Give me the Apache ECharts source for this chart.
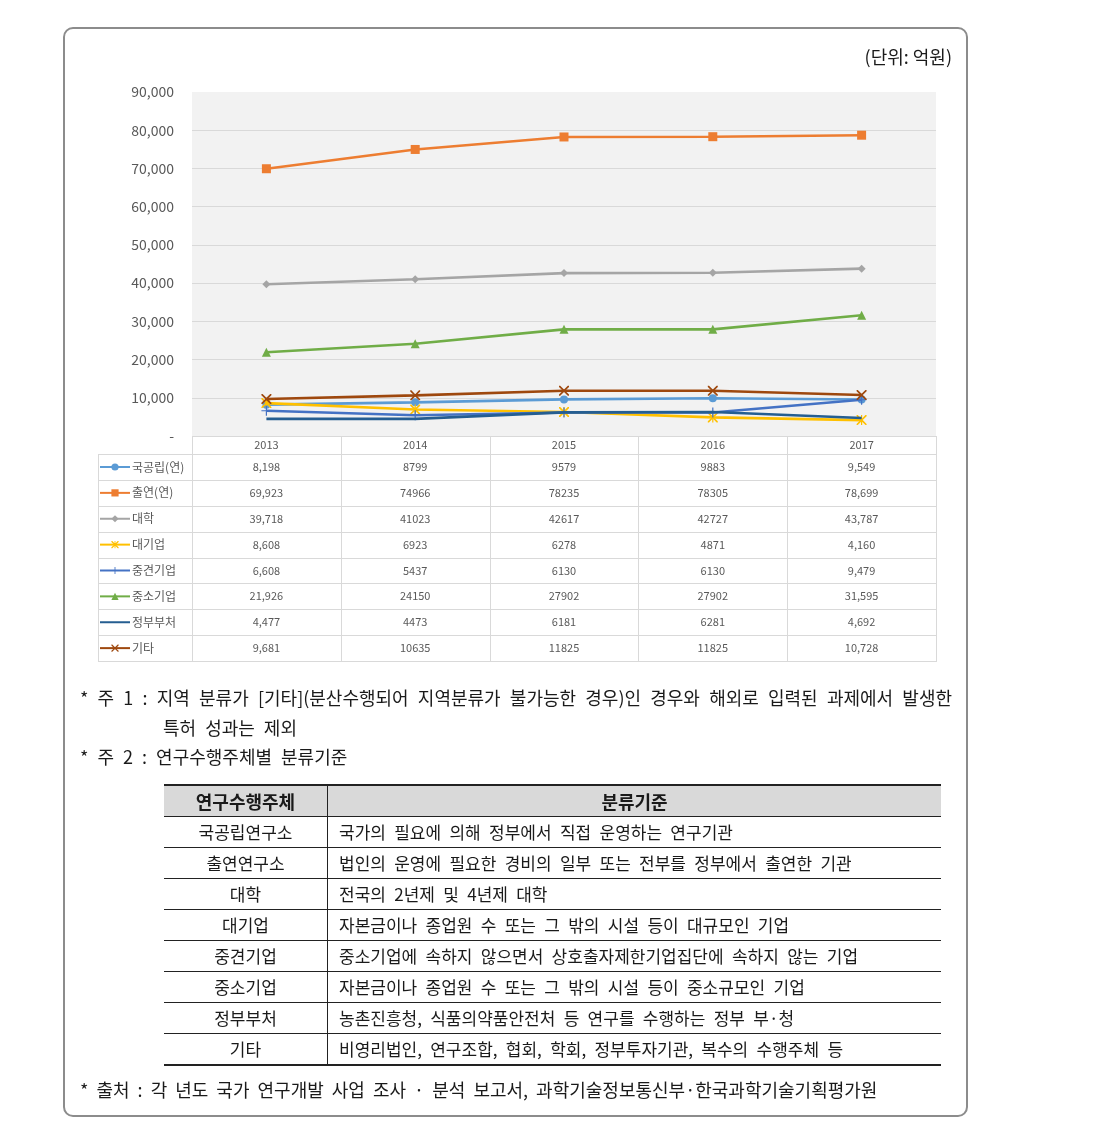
<!DOCTYPE html>
<html><head><meta charset="utf-8">
<script src="https://cdn.jsdelivr.net/npm/echarts@6/dist/echarts.min.js"></script>
<style>
html,body{margin:0;padding:0;background:#fff;}
body{width:1110px;height:1126px;position:relative;overflow:hidden;font-family:"Noto Sans CJK KR","Noto Sans",sans-serif;color:#1a1a1a;}
#chart{position:absolute;left:0;top:0;width:1110px;height:680px;}
#frame{position:absolute;left:63px;top:27px;width:901px;height:1086px;border:2px solid #8c8c8c;border-radius:10px;pointer-events:none;}
.t{position:absolute;white-space:nowrap;}
.note{font-size:18px;line-height:26px;color:#1a1a1a;}
.ws{word-spacing:5px;}
.hl{position:absolute;height:1px;background:#d9d9d9;}
.vl{position:absolute;width:1px;background:#d9d9d9;}
.cell{position:absolute;text-align:center;font-size:11px;color:#595959;}
#cls{position:absolute;left:164px;top:784px;width:777px;border-collapse:collapse;font-size:17px;color:#1a1a1a;word-spacing:4.5px;}
#cls td,#cls th{height:30px;padding:0;border-bottom:1px solid #222;line-height:30px;}
#cls tr:first-child th{border-top:2px solid #222;background:#d9d9d9;font-weight:bold;font-size:18px;}
#cls tr:last-child td{border-bottom:2px solid #222;}
#cls .c0{width:163px;text-align:center;border-right:1px solid #222;}
#cls .c1{text-align:left;padding-left:11px;}
#cls th.c1{text-align:center;padding-left:0;}
</style>
</head>
<body>
<div id="chart"></div>
<div id="frame"></div>
<div id="overlay"></div>
<script>
// ---- data ----
const years = ['2013', '2014', '2015', '2016', '2017'];
const seriesNames = ['국공립(연)', '출연(연)', '대학', '대기업', '중견기업', '중소기업', '정부부처', '기타'];
const gukgongrip = [8198, 8799, 9579, 9883, 9549];
const chulyeon = [69923, 74966, 78235, 78305, 78699];
const daehak = [39718, 41023, 42617, 42727, 43787];
const daegieop = [8608, 6923, 6278, 4871, 4160];
const junggyeon = [6608, 5437, 6130, 6130, 9479];
const jungso = [21926, 24150, 27902, 27902, 31595];
const jeongbu = [4477, 4473, 6181, 6281, 4692];
const gita = [9681, 10635, 11825, 11825, 10728];
const yTicks = [0, 10000, 20000, 30000, 40000, 50000, 60000, 70000, 80000, 90000];

const unitText = '(단위:  억원)';
const note1a = '* 주 1 : 지역 분류가 [기타](분산수행되어 지역분류가 불가능한 경우)인 경우와 해외로 입력된 과제에서 발생한';
const note1b = '특허 성과는 제외';
const note2 = '* 주 2 : 연구수행주체별 분류기준';
const sourceText = '* 출처 : 각 년도 국가 연구개발 사업 조사 · 분석 보고서, 과학기술정보통신부·한국과학기술기획평가원';
const clsHeader = ['연구수행주체', '분류기준'];
const orgTypes = ['국공립연구소', '출연연구소', '대학', '대기업', '중견기업', '중소기업', '정부부처', '기타'];
const orgCriteria = [
  '국가의 필요에 의해 정부에서 직접 운영하는 연구기관',
  '법인의 운영에 필요한 경비의 일부 또는 전부를 정부에서 출연한 기관',
  '전국의 2년제 및 4년제 대학',
  '자본금이나 종업원 수 또는 그 밖의 시설 등이 대규모인 기업',
  '중소기업에 속하지 않으면서 상호출자제한기업집단에 속하지 않는 기업',
  '자본금이나 종업원 수 또는 그 밖의 시설 등이 중소규모인 기업',
  '농촌진흥청, 식품의약품안전처 등 연구를 수행하는 정부 부·청',
  '비영리법인, 연구조합, 협회, 학회, 정부투자기관, 복수의 수행주체 등'
];

// ---- chart ----
const allSeries = [gukgongrip, chulyeon, daehak, daegieop, junggyeon, jungso, jeongbu, gita];
const colors = ['#5b9bd5', '#ed7d31', '#a5a5a5', '#ffc000', '#4472c4', '#70ad47', '#255e91', '#9e480e'];
const P_X = 'path://M0,0L1.2,0L5,3.8L8.8,0L10,0L10,1.2L6.2,5L10,8.8L10,10L8.8,10L5,6.2L1.2,10L0,10L0,8.8L3.8,5L0,1.2Z';
const P_PLUS = 'path://M4.4,0H5.6V4.4H10V5.6H5.6V10H4.4V5.6H0V4.4H4.4Z';
const P_AST = 'path://M0,0L1.2,0L5,3.8L8.8,0L10,0L10,1.2L6.2,5L10,8.8L10,10L8.8,10L5,6.2L1.2,10L0,10L0,8.8L3.8,5L0,1.2Z M4.4,0H5.6V10H4.4Z';
const symbols = ['circle', 'rect', 'diamond', P_AST, P_PLUS, 'triangle', 'circle', P_X];
const symSizes = [8, 9, 8, 10, 10, 9, 0, 10];
const hasMarker = [true, true, true, true, true, true, false, true];

const chart = echarts.init(document.getElementById('chart'), null, {renderer: 'canvas'});
const FONT = '"Noto Sans CJK KR","Noto Sans",sans-serif';
chart.setOption({
  animation: false,
  textStyle: {fontFamily: FONT},
  grid: {left: 192, top: 92, width: 744, height: 344, show: true, backgroundColor: '#f2f2f2', borderWidth: 0, containLabel: false},
  xAxis: {type: 'category', data: years, boundaryGap: true, axisLine: {show: false}, axisTick: {show: false}, axisLabel: {show: false}},
  yAxis: {
    type: 'value', min: yTicks[0], max: yTicks[yTicks.length - 1], interval: yTicks[1] - yTicks[0],
    axisLine: {show: false}, axisTick: {show: false},
    axisLabel: {margin: 18, fontSize: 14, color: '#595959', fontFamily: FONT,
      formatter: v => v === 0 ? '-' : v.toLocaleString('en-US')},
    splitLine: {lineStyle: {width: 1, color: ['rgba(0,0,0,0)', '#d9d9d9', '#d9d9d9', '#d9d9d9', '#d9d9d9', '#d9d9d9', '#d9d9d9', '#d9d9d9', '#d9d9d9', 'rgba(0,0,0,0)']}}
  },
  legend: {
    orient: 'vertical', left: 99, top: 460, padding: 0, itemWidth: 30, itemHeight: 9, itemGap: 11.875,
    data: seriesNames, selectedMode: false,
    textStyle: {fontSize: 12, color: '#595959', lineHeight: 14, fontFamily: FONT, padding: [0, 0, 0, -3]}
  },
  series: allSeries.map((d, i) => ({
    name: seriesNames[i], type: 'line', data: d,
    symbol: symbols[i], symbolSize: symSizes[i], showSymbol: hasMarker[i],
    lineStyle: {width: 2.6, color: colors[i]},
    itemStyle: {color: hasMarker[i] ? colors[i] : 'rgba(0,0,0,0)'},
    z: 2 + i
  }))
});

// ---- HTML overlay: data table, notes, classification table ----
const ov = document.getElementById('overlay');
function add(html) { ov.insertAdjacentHTML('beforeend', html); }
function fmt(v, col) { return (col === 0 || col === years.length - 1) ? v.toLocaleString('en-US') : String(v); }

const colX = [192, 340.8, 489.6, 638.4, 787.2, 936];
const tTop = 436, hdrH = 18, rowH = 25.875, tLeft = 98;
const tBottom = tTop + hdrH + rowH * seriesNames.length;
add(`<div class="hl" style="left:192px;top:${tTop}px;width:745px"></div>`);
for (let r = 0; r <= seriesNames.length; r++) {
  const y = tTop + hdrH + r * rowH;
  add(`<div class="hl" style="left:${tLeft}px;top:${y}px;width:${936 - tLeft + 1}px"></div>`);
}
add(`<div class="vl" style="left:${tLeft}px;top:${tTop + hdrH}px;height:${tBottom - tTop - hdrH}px"></div>`);
colX.forEach(x => add(`<div class="vl" style="left:${x}px;top:${tTop}px;height:${tBottom - tTop}px"></div>`));
years.forEach((y, c) => add(`<div class="cell" style="left:${colX[c]}px;width:${colX[c + 1] - colX[c]}px;top:${tTop}px;height:${hdrH}px;line-height:${hdrH - 2}px">${y}</div>`));
allSeries.forEach((d, r) => {
  const top = tTop + hdrH + r * rowH;
  d.forEach((v, c) => add(`<div class="cell" style="left:${colX[c]}px;width:${colX[c + 1] - colX[c]}px;top:${top}px;height:${rowH}px;line-height:${rowH}px">${fmt(v, c)}</div>`));
});

add(`<div class="t note" style="right:158px;top:43px">${unitText}</div>`);
add(`<div class="t note" style="left:80px;top:684px;width:872px;white-space:normal;text-align:justify;text-align-last:justify">${note1a}</div>`);
add(`<div class="t note ws" style="left:163px;top:714px">${note1b}</div>`);
add(`<div class="t note ws" style="left:80px;top:743px">${note2}</div>`);
add(`<div class="t note" style="left:80px;top:1076px;word-spacing:4px">${sourceText}</div>`);

let tbl = `<table id="cls"><tr><th class="c0">${clsHeader[0]}</th><th class="c1">${clsHeader[1]}</th></tr>`;
orgTypes.forEach((o, i) => { tbl += `<tr><td class="c0">${o}</td><td class="c1">${orgCriteria[i]}</td></tr>`; });
tbl += '</table>';
add(tbl);
</script>
</body></html>
